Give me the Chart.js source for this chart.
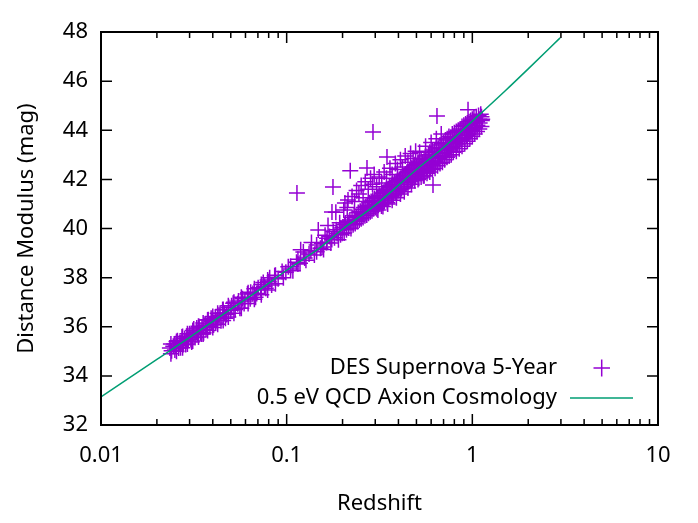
<!DOCTYPE html>
<html>
<head>
<meta charset="utf-8">
<title>Distance modulus vs redshift</title>
<script src="https://cdn.jsdelivr.net/npm/chart.js@4.4.0/dist/chart.umd.min.js"></script>
<style>
  html, body { margin: 0; padding: 0; background: #fff; }
  canvas { display: block; }
</style>
</head>
<body>
<canvas id="grafico" width="698" height="523"></canvas>
<script>
const xTicks = [0.01, 0.1, 1, 10];
const xMinor = [2, 3, 4, 5, 6, 7, 8, 9];
const yTicks = [32, 34, 36, 38, 40, 42, 44, 46, 48];

// modelo 0.5 eV QCD axion
const modelZ  = [0.01, 0.02, 0.03, 0.05, 0.07, 0.1, 0.15, 0.2, 0.3, 0.5, 0.7, 1, 1.5, 2, 2.97];
const modelMu = [33.14, 34.67, 35.57, 36.72, 37.46, 38.30, 39.2, 39.97, 40.95, 42.40, 43.3, 44.37, 45.6, 46.5, 47.76];

// DES SN 5YR: muestra de bajo z
const lowZ = [
  [0.0235,35.13],[0.0240,35.02],[0.0245,35.21],[0.0250,35.05],[0.0253,35.22],[0.0258,35.43],[0.0262,35.13],
  [0.0266,35.36],[0.0270,35.35],[0.0273,35.58],[0.0278,35.28],[0.0282,35.51],[0.0286,35.28],[0.0290,35.61],
  [0.0295,35.49],[0.0300,35.72],[0.0305,35.50],[0.0310,35.66],[0.0316,35.91],[0.0321,35.56],[0.0326,35.79],
  [0.0331,35.75],[0.0338,36.00],[0.0344,35.76],[0.0350,35.99],[0.0357,35.76],[0.0364,36.11],[0.0370,36.04],
  [0.0378,36.28],[0.0386,36.02],[0.0395,36.22],[0.0404,36.07],[0.0413,36.37],[0.0421,36.26],[0.0432,36.47],
  [0.0443,36.24],[0.0452,36.69],[0.0462,36.56],[0.0475,36.50],[0.0488,36.78],[0.0500,36.67],[0.0515,36.96],
  [0.0528,36.70],[0.0545,36.94],[0.0560,36.75],[0.0578,37.14],[0.0596,37.05],[0.0615,37.33],[0.0636,37.14],
  [0.0658,37.35],[0.0680,37.20],[0.0702,37.59],[0.0725,37.55],[0.0748,37.80],[0.0772,37.57],[0.0800,37.83],
  [0.0830,37.70],[0.0862,38.08],[0.0900,37.95],[0.0945,38.25],[0.0990,38.22],[0.1050,38.45],[0.1150,38.55],
  [0.0248,35.30],[0.0268,35.15],[0.0288,35.45],[0.0308,35.38],[0.0328,35.95],[0.0348,35.70],[0.0368,35.90],
  [0.0392,36.35],[0.0415,36.15],[0.0438,36.55],[0.0468,36.35],[0.0505,36.85],[0.0550,37.05],[0.0590,36.95],
  [0.0640,37.40],[0.0690,37.35],[0.0760,37.65],[0.0810,38.00]
];

// bajo z: bordes de la banda
const lowZEdge = [
  [0.0238,35.30],[0.0238,34.90],[0.0255,35.00],[0.0255,35.40],[0.0275,35.15],[0.0275,35.60],
  [0.0292,35.30],[0.0292,35.72],[0.0312,35.42],[0.0312,35.85],[0.0335,35.58],[0.0335,36.02],
  [0.0355,35.70],[0.0355,36.15],[0.0375,35.85],[0.0375,36.27],[0.0400,35.97],[0.0400,36.42],
  [0.0425,36.10],[0.0425,36.55],[0.0455,36.25],[0.0455,36.70],[0.0485,36.40],[0.0485,36.85],
  [0.0520,36.55],[0.0520,37.00],[0.0570,36.75],[0.0570,37.20],[0.0620,36.95],[0.0620,37.38],
  [0.0670,37.12],[0.0670,37.55],[0.0730,37.30],[0.0730,37.72],[0.0790,37.50],[0.0790,37.90],
  [0.0870,37.75],[0.0870,38.10],[0.0960,38.00]
];

// DES: z de 0.1 a 0.3
const desNear = [
  [0.102,38.44],[0.108,38.28],[0.113,38.63],[0.118,38.59],[0.119,39.13],[0.123,39.04],[0.127,38.71],
  [0.132,38.96],[0.136,39.43],[0.141,38.92],[0.145,39.33],[0.148,39.94],[0.152,39.20],[0.155,39.40],
  [0.158,39.14],[0.161,39.73],[0.164,39.43],[0.167,40.12],[0.170,39.67],[0.173,39.41],[0.178,39.88],
  [0.181,39.62],[0.184,40.66],[0.187,39.80],[0.190,39.54],[0.193,40.23],[0.196,40.02],[0.199,39.81],
  [0.201,40.05],[0.204,39.82],[0.207,40.22],[0.210,39.95],[0.213,40.30],[0.216,40.02],[0.219,40.35],
  [0.222,40.00],[0.225,40.45],[0.228,40.15],[0.231,40.52],[0.234,40.20],[0.237,40.48],[0.240,40.28],
  [0.243,40.65],[0.246,40.35],[0.249,40.70],[0.252,40.40],[0.255,40.78],[0.258,40.45],[0.261,40.85],
  [0.264,40.52],[0.267,40.90],[0.270,40.55],[0.273,40.95],[0.276,40.62],[0.279,41.05],[0.282,40.68],
  [0.285,41.10],[0.288,40.72],[0.291,41.15],[0.294,40.80],[0.297,41.22],[0.300,40.85],
  [0.203,40.75],[0.212,40.85],[0.225,41.30],[0.232,41.10],[0.238,41.55],[0.245,41.40],[0.252,41.75],
  [0.258,41.25],[0.265,41.90],[0.275,41.60],[0.283,42.05],[0.290,41.80],[0.296,42.20],
  [0.105,38.35],[0.115,38.75],[0.125,38.80],[0.135,39.10],[0.145,39.05],[0.155,39.25],[0.165,39.60],
  [0.175,39.55],[0.185,39.95],[0.195,39.75],[0.205,40.15],[0.215,40.10],[0.235,40.35],[0.255,40.60],
  [0.275,40.80],[0.295,40.95]
];

// DES: z de 0.3 a 0.8
const desMid = [
  [0.303,41.10],[0.306,40.80],[0.309,41.25],[0.312,40.95],[0.315,41.35],[0.318,41.00],[0.321,41.30],
  [0.324,40.92],[0.327,41.42],[0.330,41.05],[0.333,41.48],[0.336,41.12],[0.339,41.55],[0.342,41.20],
  [0.345,41.60],[0.348,41.05],[0.351,41.52],[0.354,41.25],[0.357,41.72],[0.360,41.30],[0.364,41.68],
  [0.368,41.35],[0.372,41.80],[0.376,41.40],[0.380,41.85],[0.384,41.45],[0.388,41.90],[0.392,41.50],
  [0.396,41.95],[0.400,41.55],[0.404,42.00],[0.408,41.60],[0.412,42.05],[0.416,41.62],[0.420,42.10],
  [0.424,41.70],[0.428,42.15],[0.432,41.78],[0.436,42.22],[0.440,41.80],[0.444,42.28],[0.448,41.88],
  [0.452,42.30],[0.456,41.92],[0.460,42.35],[0.465,41.95],[0.470,42.40],[0.475,42.00],[0.480,42.45],
  [0.485,42.05],[0.490,42.50],[0.495,42.12],[0.500,42.55],
  [0.305,41.70],[0.315,42.10],[0.325,41.85],[0.335,42.30],[0.345,42.05],[0.360,42.45],[0.370,42.20],
  [0.385,42.65],[0.395,42.40],[0.410,42.80],[0.420,42.50],[0.435,42.95],[0.450,42.70],[0.465,43.05],
  [0.480,42.85],[0.495,43.15],
  [0.505,42.20],[0.510,42.65],[0.515,42.05],[0.520,42.55],[0.525,42.25],[0.530,42.80],[0.535,42.30],
  [0.540,42.70],[0.545,42.15],[0.550,42.85],[0.555,42.40],[0.560,42.95],[0.565,42.45],[0.570,42.75],
  [0.575,42.35],[0.580,43.00],[0.585,42.55],[0.590,43.10],[0.595,42.45],[0.600,42.90],[0.605,42.60],
  [0.610,43.20],[0.618,42.55],[0.625,43.15],[0.632,42.75],[0.640,43.30],[0.648,42.70],[0.655,43.25],
  [0.662,42.85],[0.670,43.40],[0.678,42.95],[0.685,43.45],[0.692,42.90],[0.700,43.50],[0.708,43.05],
  [0.716,43.60],[0.724,43.10],[0.732,43.65],[0.740,43.20],[0.748,43.75],[0.756,43.25],[0.764,43.70],
  [0.772,43.30],[0.780,43.85],[0.790,43.40],[0.800,43.90],
  [0.520,43.10],[0.560,43.35],[0.600,43.50],[0.640,43.65],[0.680,43.85]
];

// DES: z de 0.8 a 1.13
const desFar = [
  [0.810,43.50],[0.820,43.95],[0.830,43.45],[0.840,44.00],[0.850,43.55],[0.860,44.05],[0.870,43.60],
  [0.880,44.15],[0.890,43.70],[0.900,44.20],[0.910,43.65],[0.920,44.25],[0.930,43.80],[0.940,44.30],
  [0.950,43.85],[0.960,44.35],[0.970,43.95],[0.980,44.40],[0.990,44.00],[1.000,44.45],[1.010,44.05],
  [1.020,44.50],[1.035,44.10],[1.050,44.55],[1.065,44.20],[1.080,44.60],[1.095,44.30],[1.110,44.65],
  [1.125,44.40],[1.130,44.45]
];

// DES: relleno de la banda ancha a z > 0.3
const desWide = [
  [0.31,40.75],[0.31,41.30],[0.33,40.90],[0.33,41.45],[0.35,41.00],[0.35,41.60],[0.37,41.15],[0.37,41.75],
  [0.39,41.25],[0.39,41.90],[0.41,41.40],[0.41,42.00],[0.43,41.50],[0.43,42.15],[0.45,41.65],[0.45,42.30],
  [0.47,41.80],[0.47,42.45],[0.49,41.95],[0.49,42.60],[0.51,42.00],[0.51,42.70],[0.53,42.10],[0.53,42.40],
  [0.55,42.15],[0.55,42.50],[0.57,42.25],[0.57,42.60],[0.59,42.30],[0.59,42.65],[0.61,42.40],[0.61,42.75],
  [0.63,42.45],[0.63,42.85],[0.65,42.55],[0.65,42.95],[0.67,42.65],[0.67,43.05],[0.69,42.70],[0.69,43.10],
  [0.71,42.80],[0.71,43.20],[0.73,42.90],[0.73,43.30],[0.75,42.95],[0.75,43.35],[0.77,43.00],[0.77,43.45],
  [0.79,43.10],[0.79,43.50],[0.82,43.15],[0.82,43.60],[0.85,43.25],[0.85,43.70],[0.88,43.35],[0.88,43.80],
  [0.91,43.45],[0.91,43.90],[0.94,43.55],[0.94,44.00],[0.97,43.65],[0.97,44.10],[1.00,43.75],[1.00,44.20],
  [1.03,43.85],[1.03,44.30],[1.06,43.95],[1.06,44.35],[1.09,44.05],[1.09,44.45],[1.12,44.15],[1.12,44.55]
];

// puntos sueltos
const outliers = [
  [0.1136,41.45],[0.1776,41.69],[0.1754,40.67],[0.206,41.04],[0.214,41.16],[0.220,42.35],
  [0.2708,42.46],[0.2917,43.93],[0.347,42.91],[0.614,41.77],[0.645,44.58],[0.948,44.83]
];

const purple = '#9400d3';
const green = '#009e73';
const font = "'Noto Sans', 'Open Sans', sans-serif";
const fontSize = 22;

const snData = [...lowZ, ...lowZEdge, ...desNear, ...desMid, ...desFar, ...desWide, ...outliers]
  .map(([x, y]) => ({ x, y }));
const modelData = modelZ.map((x, i) => ({ x, y: modelMu[i] }));

const marcoEjes = {
  id: 'marcoEjes',
  afterDraw(chart) {
    const { ctx, chartArea: a, scales: { x, y } } = chart;
    ctx.save();
    ctx.strokeStyle = '#000';
    ctx.lineWidth = 1.5;
    ctx.beginPath();
    xTicks.forEach(v => {
      const px = x.getPixelForValue(v);
      ctx.moveTo(px, a.bottom); ctx.lineTo(px, a.bottom - 11);
      ctx.moveTo(px, a.top); ctx.lineTo(px, a.top + 11);
      if (v < 10) {
        xMinor.forEach(m => {
          const pm = x.getPixelForValue(v * m);
          ctx.moveTo(pm, a.bottom); ctx.lineTo(pm, a.bottom - 6);
          ctx.moveTo(pm, a.top); ctx.lineTo(pm, a.top + 6);
        });
      }
    });
    yTicks.forEach(v => {
      const py = y.getPixelForValue(v);
      ctx.moveTo(a.left, py); ctx.lineTo(a.left + 11, py);
      ctx.moveTo(a.right, py); ctx.lineTo(a.right - 11, py);
    });
    ctx.stroke();
    ctx.lineWidth = 2;
    ctx.strokeRect(a.left, a.top, a.right - a.left, a.bottom - a.top);

    // leyenda
    ctx.fillStyle = '#000';
    ctx.font = fontSize + 'px ' + font;
    ctx.textAlign = 'right';
    ctx.textBaseline = 'middle';
    ctx.fillText('DES Supernova 5-Year', 557, 368);
    ctx.fillText('0.5 eV QCD Axion Cosmology', 557, 398);
    ctx.strokeStyle = purple;
    ctx.lineWidth = 1.5;
    ctx.beginPath();
    ctx.moveTo(593.5, 368); ctx.lineTo(610, 368);
    ctx.moveTo(601.7, 359.5); ctx.lineTo(601.7, 376.5);
    ctx.stroke();
    ctx.strokeStyle = green;
    ctx.beginPath();
    ctx.moveTo(570, 398); ctx.lineTo(633, 398);
    ctx.stroke();
    ctx.restore();
  }
};

new Chart(document.getElementById('grafico'), {
  type: 'scatter',
  data: {
    datasets: [
      {
        label: '0.5 eV QCD Axion Cosmology',
        data: modelData,
        showLine: true,
        borderColor: green,
        borderWidth: 1.5,
        pointRadius: 0,
        cubicInterpolationMode: 'monotone',
        order: 0
      },
      {
        label: 'DES Supernova 5-Year',
        data: snData,
        pointStyle: 'cross',
        pointRadius: 8,
        pointBorderWidth: 1.5,
        borderColor: purple,
        backgroundColor: purple,
        order: 1
      }
    ]
  },
  options: {
    responsive: false,
    animation: false,
    devicePixelRatio: 1,
    layout: { padding: { left: 0, top: 32, right: 40, bottom: 0 } },
    plugins: {
      legend: { display: false },
      tooltip: { enabled: false }
    },
    scales: {
      x: {
        type: 'logarithmic',
        min: 0.01,
        max: 10,
        afterFit: s => { s.height = 98; },
        afterBuildTicks: s => { s.ticks = xTicks.map(v => ({ value: v })); },
        grid: { display: false, drawTicks: false },
        border: { display: false },
        ticks: {
          autoSkip: false,
          maxRotation: 0,
          padding: 18,
          color: '#000',
          font: { family: font, size: fontSize },
          callback: v => String(v)
        },
        title: {
          display: true,
          text: 'Redshift',
          color: '#000',
          font: { family: font, size: fontSize },
          padding: { top: 0, bottom: 6 }
        }
      },
      y: {
        min: 32,
        max: 48,
        afterFit: s => { s.width = 101; },
        afterBuildTicks: s => { s.ticks = yTicks.map(v => ({ value: v })); },
        grid: { display: false, drawTicks: false },
        border: { display: false },
        ticks: {
          padding: 13,
          color: '#000',
          font: { family: font, size: fontSize }
        },
        title: {
          display: true,
          text: 'Distance Modulus (mag)',
          color: '#000',
          font: { family: font, size: fontSize },
          padding: { top: 14, bottom: 0 }
        }
      }
    }
  },
  plugins: [marcoEjes]
});
</script>
</body>
</html>
